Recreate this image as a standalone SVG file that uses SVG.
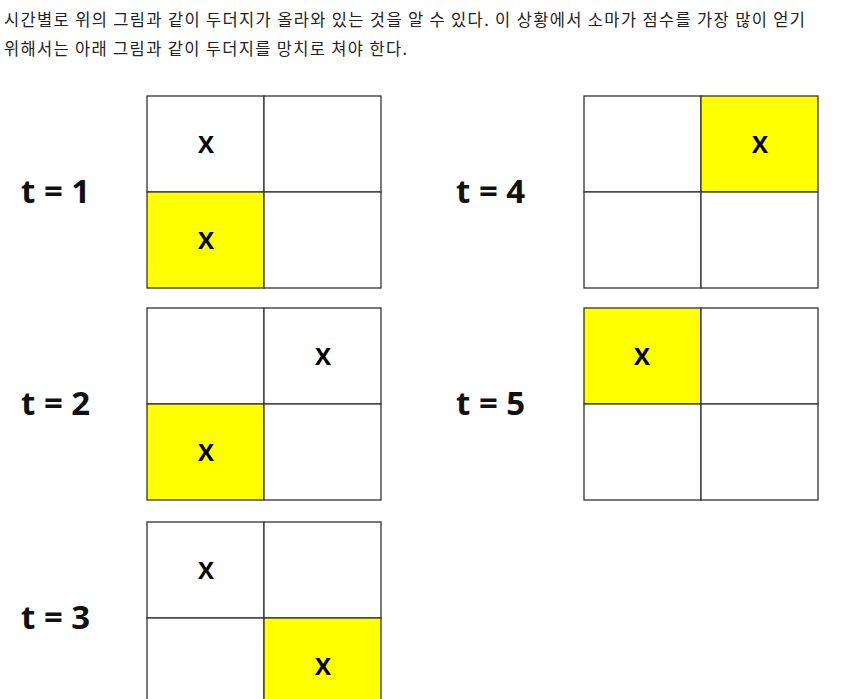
<svg xmlns="http://www.w3.org/2000/svg" width="849" height="699" viewBox="0 0 849 699">
<style>
.p{font-family:"Noto Sans CJK KR","Noto Sans",sans-serif;font-size:16.5px;fill:#222}
.t{font-family:"Open Sans","Liberation Sans",sans-serif;font-weight:bold;font-size:33px;fill:#111}
.x{font-family:"Open Sans","Liberation Sans",sans-serif;font-weight:bold;font-size:24px;fill:#000;text-anchor:middle}
.c{fill:#fff;stroke:#333;stroke-width:1.3}
.y{fill:#ffff00;stroke:#333;stroke-width:1.3}
</style>
<rect width="849" height="699" fill="#fff"/>
<text class="p" x="4" y="26" textLength="801" lengthAdjust="spacing">시간별로 위의 그림과 같이 두더지가 올라와 있는 것을 알 수 있다. 이 상황에서 소마가 점수를 가장 많이 얻기</text>
<text class="p" x="4" y="55" textLength="403" lengthAdjust="spacing">위해서는 아래 그림과 같이 두더지를 망치로 쳐야 한다.</text>
<g id="t1">
<text class="t" x="21" y="203">t = 1</text>
<rect class="c" x="147" y="96" width="117" height="96"/>
<rect class="c" x="264" y="96" width="117" height="96"/>
<rect class="y" x="147" y="192" width="117" height="96"/>
<rect class="c" x="264" y="192" width="117" height="96"/>
<text class="x" x="206" y="153">X</text>
<text class="x" x="206" y="249">X</text>
</g>
<g id="t2">
<text class="t" x="21" y="415">t = 2</text>
<rect class="c" x="147" y="308" width="117" height="96"/>
<rect class="c" x="264" y="308" width="117" height="96"/>
<rect class="y" x="147" y="404" width="117" height="96"/>
<rect class="c" x="264" y="404" width="117" height="96"/>
<text class="x" x="323" y="365">X</text>
<text class="x" x="206" y="461">X</text>
</g>
<g id="t3">
<text class="t" x="21" y="629">t = 3</text>
<rect class="c" x="147" y="522" width="117" height="96"/>
<rect class="c" x="264" y="522" width="117" height="96"/>
<rect class="c" x="147" y="618" width="117" height="96"/>
<rect class="y" x="264" y="618" width="117" height="96"/>
<text class="x" x="206" y="579">X</text>
<text class="x" x="323" y="675">X</text>
</g>
<g id="t4">
<text class="t" x="456" y="203">t = 4</text>
<rect class="c" x="584" y="96" width="117" height="96"/>
<rect class="y" x="701" y="96" width="117" height="96"/>
<rect class="c" x="584" y="192" width="117" height="96"/>
<rect class="c" x="701" y="192" width="117" height="96"/>
<text class="x" x="760" y="153">X</text>
</g>
<g id="t5">
<text class="t" x="456" y="415">t = 5</text>
<rect class="y" x="584" y="308" width="117" height="96"/>
<rect class="c" x="701" y="308" width="117" height="96"/>
<rect class="c" x="584" y="404" width="117" height="96"/>
<rect class="c" x="701" y="404" width="117" height="96"/>
<text class="x" x="642" y="365">X</text>
</g>
<g id="connectors"></g>
</svg>
